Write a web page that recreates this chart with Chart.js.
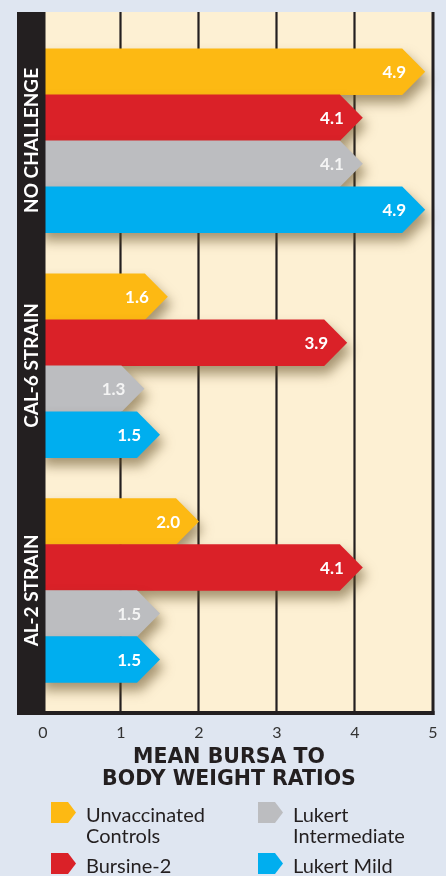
<!DOCTYPE html>
<html>
<head>
<meta charset="utf-8">
<script src="https://cdn.jsdelivr.net/npm/chart.js@4.4.0/dist/chart.umd.min.js"></script>
<style>
html, body { margin: 0; padding: 0; background: #dfe6f1; }
#wrap { width: 446px; height: 876px; position: relative; }
</style>
</head>
<body>
<div id="wrap"><canvas id="myChart"></canvas></div>
<script>
var groups = ["NO CHALLENGE", "CAL-6 STRAIN", "AL-2 STRAIN"];
var seriesNames = [["Unvaccinated", "Controls"], ["Bursine-2"], ["Lukert", "Intermediate"], ["Lukert Mild"]];
var unvaccinated = [4.9, 1.6, 2.0];
var bursine2 = [4.1, 3.9, 4.1];
var lukertIntermediate = [4.1, 1.3, 1.5];
var lukertMild = [4.9, 1.5, 1.5];
var xTicks = [0, 1, 2, 3, 4, 5];
var titleLines = ["MEAN BURSA TO", "BODY WEIGHT RATIOS"];

var colors = ['#fdb913', '#da2128', '#bcbdc0', '#00aeef'];
var labelColors = ['#ffffff', '#ffffff', '#f4f4f4', '#ffffff'];
var ink = '#231f20';

function arrow(c, x0, x1, top, bottom, head) {
    var mid = (top + bottom) / 2;
    c.beginPath();
    c.moveTo(x0, top);
    c.lineTo(x1 - head, top);
    c.lineTo(x1, mid);
    c.lineTo(x1 - head, bottom);
    c.lineTo(x0, bottom);
    c.closePath();
    c.fill();
}

var frame = {
    id: 'frame',
    beforeDatasetsDraw: function (chart) {
        var c = chart.ctx, xs = chart.scales.x;
        var left = xs.getPixelForValue(xTicks[0]);
        var right = xs.getPixelForValue(xTicks[xTicks.length - 1]);
        c.save();
        c.fillStyle = '#fdf0d3';
        c.fillRect(left, 12, right - left, 701);
        c.strokeStyle = ink;
        c.lineWidth = 2.2;
        xTicks.slice(1, -1).forEach(function (v) {
            var px = Math.round(xs.getPixelForValue(v)) - 0.5;
            c.beginPath();
            c.moveTo(px, 12);
            c.lineTo(px, 712);
            c.stroke();
        });
        c.restore();
    },
    beforeDatasetDraw: function () {
        return false;
    },
    afterDatasetsDraw: function (chart) {
        var c = chart.ctx, xs = chart.scales.x, ys = chart.scales.y;
        c.save();
        // arrow bars
        chart.data.datasets.forEach(function (ds, i) {
            var meta = chart.getDatasetMeta(i);
            meta.data.forEach(function (el) {
                var h = el.height;
                c.save();
                c.shadowColor = 'rgba(95, 75, 35, 0.55)';
                c.shadowBlur = 12;
                c.shadowOffsetX = 4;
                c.shadowOffsetY = 8;
                c.fillStyle = colors[i];
                arrow(c, el.base - 4, el.x, el.y - h / 2, el.y + h / 2 + 0.5, h / 2);
                c.restore();
            });
        });
        // value labels
        c.font = 'bold 17px Lato';
        c.textAlign = 'right';
        c.textBaseline = 'middle';
        chart.data.datasets.forEach(function (ds, i) {
            var meta = chart.getDatasetMeta(i);
            meta.data.forEach(function (el, j) {
                c.fillStyle = labelColors[i];
                c.fillText(ds.data[j].toFixed(1), el.x - 19, el.y + 1);
            });
        });
        // black strip and borders
        var right = xs.getPixelForValue(xTicks[xTicks.length - 1]);
        c.fillStyle = ink;
        c.fillRect(17, 12, 28.5, 703);
        c.fillRect(17, 711, right - 17 + 1.5, 4);
        c.fillRect(right - 1.5, 12, 3, 703);
        // group labels
        c.fillStyle = '#ffffff';
        c.font = 'bold 19px Lato';
        c.textAlign = 'center';
        groups.forEach(function (g, i) {
            c.save();
            c.translate(32, ys.getPixelForValue(i));
            c.rotate(-Math.PI / 2);
            c.fillText(g, 0, 0);
            c.restore();
        });
        c.restore();
    },
    afterDraw: function (chart) {
        var c = chart.ctx;
        c.save();
        c.fillStyle = ink;
        c.textAlign = 'center';
        c.textBaseline = 'alphabetic';
        c.font = 'bold 20.5px "DejaVu Sans"';
        c.fillText(titleLines[0], 229, 763);
        c.fillText(titleLines[1], 229, 785);
        // legend
        var cells = [[51, 802], [51, 853], [258, 802], [258, 853]];
        c.textAlign = 'left';
        c.font = '20px Lato';
        seriesNames.forEach(function (lines, i) {
            var mx = cells[i][0], my = cells[i][1];
            c.fillStyle = colors[i];
            arrow(c, mx, mx + 25, my, my + 21, 8);
            c.fillStyle = ink;
            lines.forEach(function (t, k) {
                c.fillText(t, mx + 35, my + 20 + k * 21);
            });
        });
        c.restore();
    }
};

new Chart(document.getElementById('myChart'), {
    type: 'bar',
    data: {
        labels: groups,
        datasets: [
            { label: seriesNames[0].join(' '), data: unvaccinated, backgroundColor: colors[0] },
            { label: seriesNames[1].join(' '), data: bursine2, backgroundColor: colors[1] },
            { label: seriesNames[2].join(' '), data: lukertIntermediate, backgroundColor: colors[2] },
            { label: seriesNames[3].join(' '), data: lukertMild, backgroundColor: colors[3] }
        ]
    },
    options: {
        indexAxis: 'y',
        responsive: true,
        maintainAspectRatio: false,
        animation: false,
        categoryPercentage: 0.818,
        barPercentage: 1,
        layout: { padding: { left: 43, right: 13, top: 28, bottom: 132 } },
        plugins: {
            legend: { display: false },
            tooltip: { enabled: false }
        },
        scales: {
            x: {
                min: 0,
                max: 5,
                afterBuildTicks: function (axis) {
                    axis.ticks = xTicks.map(function (v) { return { value: v }; });
                },
                grid: { display: false, drawTicks: true, tickLength: 18 },
                border: { display: false },
                ticks: { padding: 2, color: '#333333', font: { family: 'Lato', size: 16 } }
            },
            y: {
                display: false,
                grid: { display: false }
            }
        }
    },
    plugins: [frame]
});
</script>
</body>
</html>
